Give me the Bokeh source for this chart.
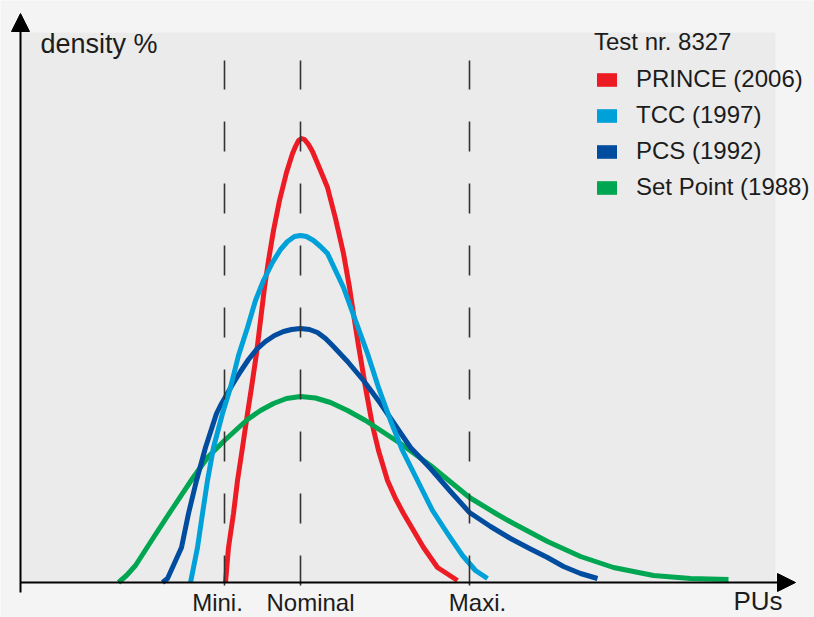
from bokeh.plotting import figure
from bokeh.models import Range1d, BoxAnnotation, Arrow, NormalHead, Legend, LegendItem, ColumnDataSource
from bokeh.core.properties import value
from bokeh.embed import file_html
from bokeh.resources import INLINE

# ---- data (PU on x, density % on y) ----
prince_x = [92.5, 92.8, 93.3, 93.7, 94.2, 94.7, 95.1, 95.6, 96.0, 96.4, 96.8, 97.3, 97.9, 98.6, 99.2, 99.5,
            99.8, 100.1, 100.4, 100.8, 101.2, 102.0, 102.7, 103.5, 104.3, 104.9, 105.4, 105.8, 106.5,
            107.2, 107.8, 108.7, 109.5, 110.3, 112.3, 113.7, 115.7]
prince_y = [0.0, 3.5, 6.9, 10.2, 13.5, 16.9, 19.5, 22.9, 26.2, 29.5, 32.2, 35.2, 38.2, 41.0, 42.9, 43.6,
            44.2, 44.4, 44.3, 43.8, 43.1, 41.2, 39.5, 36.4, 32.9, 29.5, 26.2, 23.7, 19.5,
            15.7, 13.2, 10.2, 8.4, 6.9, 3.5, 1.5, 0.2]

tcc_x = [89.0, 89.7, 90.2, 90.7, 91.3, 92.2, 93.0, 93.8, 94.7, 95.5, 96.3, 97.2, 98.0, 98.7, 99.4, 100.0,
         100.6, 101.3, 102.0, 102.7, 104.3, 105.5, 106.7, 107.8, 109.0, 110.2, 111.8, 113.2, 114.7,
         116.2, 117.5, 118.7]
tcc_y = [0.0, 3.5, 6.9, 10.2, 13.5, 16.9, 19.5, 22.7, 25.5, 28.2, 30.2, 32.0, 33.3, 34.1, 34.6, 34.7,
         34.6, 34.2, 33.6, 32.9, 29.5, 26.2, 22.9, 19.5, 16.2, 13.2, 10.0, 7.2, 4.9,
         2.7, 1.2, 0.4]

pcs_x = [86.2, 86.7, 87.2, 88.1, 88.8, 89.6, 90.5, 91.6, 92.0, 92.4, 93.2, 94.0, 94.8, 95.6, 96.5, 97.4,
         98.3, 99.1, 100.0, 100.9, 101.7, 102.5, 103.2, 104.7, 106.3, 108.0, 109.7, 111.0, 113.0,
         115.0, 116.9, 119.0, 121.0, 122.9, 124.7, 126.3, 128.0, 129.7]
pcs_y = [0.0, 0.4, 1.5, 3.5, 6.9, 10.2, 13.5, 16.9, 17.7, 18.4, 19.8, 21.1, 22.3, 23.3, 24.1, 24.7,
         25.1, 25.3, 25.4, 25.3, 25.0, 24.4, 23.7, 22.1, 20.2, 17.9, 15.4, 13.5, 11.4,
         9.1, 7.0, 5.6, 4.4, 3.4, 2.5, 1.6, 0.9, 0.4]

setpoint_x = [81.8, 82.6, 83.5, 85.3, 87.2, 89.2, 90.7, 92.4, 94.7, 96.0, 97.3, 98.6, 100.0, 101.5,
              103.0, 104.7, 106.5, 110.0, 113.0, 116.9, 119.7, 121.3, 124.7, 128.0, 131.3, 135.3,
              139.0, 142.8]
setpoint_y = [0.0, 0.7, 1.7, 4.5, 7.4, 10.4, 12.5, 14.2, 16.3, 17.2, 17.9, 18.4, 18.6, 18.45,
              18.0, 17.2, 16.2, 13.9, 11.7, 8.5, 6.8, 5.9, 4.1, 2.6, 1.5, 0.7, 0.4, 0.3]

series_labels = ["PRINCE (2006)", "TCC (1997)", "PCS (1992)", "Set Point (1988)"]
series_colors = ["#ED1C24", "#00A0D8", "#004C9E", "#00A651"]

limit_labels = ["Mini.", "Nominal", "Maxi."]
limit_x = [92.4, 100.0, 116.9]
limit_label_offset = [-7, 10, 8]

FONT = "Liberation Sans"
TXT = "#1c1c1c"

p = figure(width=814, height=617, output_backend="svg", toolbar_location=None,
           x_axis_type=None, y_axis_type=None, min_border=0,
           x_range=Range1d(70.0, 151.4), y_range=Range1d(-3.5, 58.2),
           background_fill_color="#f4f4f4", border_fill_color="#f4f4f4",
           outline_line_color=None)
p.xgrid.visible = False
p.ygrid.visible = False

# gray plot panel
p.add_layout(BoxAnnotation(left=72.0, right=147.5, bottom=0, top=55.0, fill_color="#ebebeb",
                           fill_alpha=1.0, line_color=None, level="underlay"))

curves = [(prince_x, prince_y), (setpoint_x, setpoint_y), (pcs_x, pcs_y), (tcc_x, tcc_y)]
order = [0, 3, 2, 1]
for (cx, cy), idx in zip(curves, order):
    p.line(cx, cy, line_color=series_colors[idx], line_width=5, line_join="round")

# dashed limit lines
p.segment(x0=limit_x, y0=-0.3, x1=limit_x, y1=52.2, line_color="#333333", line_width=1.6,
          line_dash="30 32")

# limit labels
lab_src = ColumnDataSource(dict(x=limit_x, text=limit_labels, dx=limit_label_offset))
p.text(x="x", y=-1.95, text="text", x_offset="dx", source=lab_src, text_align="center",
       text_baseline="alphabetic", text_font=value(FONT), text_font_size="24px", text_color=TXT)

p.text(x=[143.3], y=[-1.8], text=["PUs"], text_align="left", text_baseline="alphabetic",
       text_font=value(FONT), text_font_size="26px", text_color=TXT)
p.text(x=[74.0], y=[53.9], text=["density %"], text_align="left", text_baseline="alphabetic",
       text_font=value(FONT), text_font_size="27px", text_color=TXT)

# axes with arrow heads
p.add_layout(Arrow(x_start=72.0, y_start=-1.0, x_end=72.0, y_end=56.9, line_width=2,
                   line_color="black",
                   end=NormalHead(size=18, fill_color="black", line_color="black", line_width=1)))
p.add_layout(Arrow(x_start=72.0, y_start=0.0, x_end=149.5, y_end=0.0, line_width=2,
                   line_color="black",
                   end=NormalHead(size=18, fill_color="black", line_color="black", line_width=1)))

# legend (square swatches)
nan = float("nan")
items = []
for lab, col in zip(series_labels, series_colors):
    r = p.quad(left=[nan], right=[nan], top=[nan], bottom=[nan], fill_color=col, line_color=None)
    items.append(LegendItem(label=lab, renderers=[r]))

legend = Legend(items=items, location=(594, 416), title="Test nr. 8327",
                title_text_font=FONT, title_text_font_size="24px", title_text_color=TXT,
                title_text_font_style="normal", title_standoff=9,
                label_text_font=FONT, label_text_font_size="24px", label_text_color=TXT,
                glyph_width=25, glyph_height=17, label_standoff=17, label_height=27,
                spacing=8, padding=0, margin=0, border_line_color=None,
                background_fill_alpha=0)
p.add_layout(legend)

open("out.html", "w").write(file_html(p, INLINE))
